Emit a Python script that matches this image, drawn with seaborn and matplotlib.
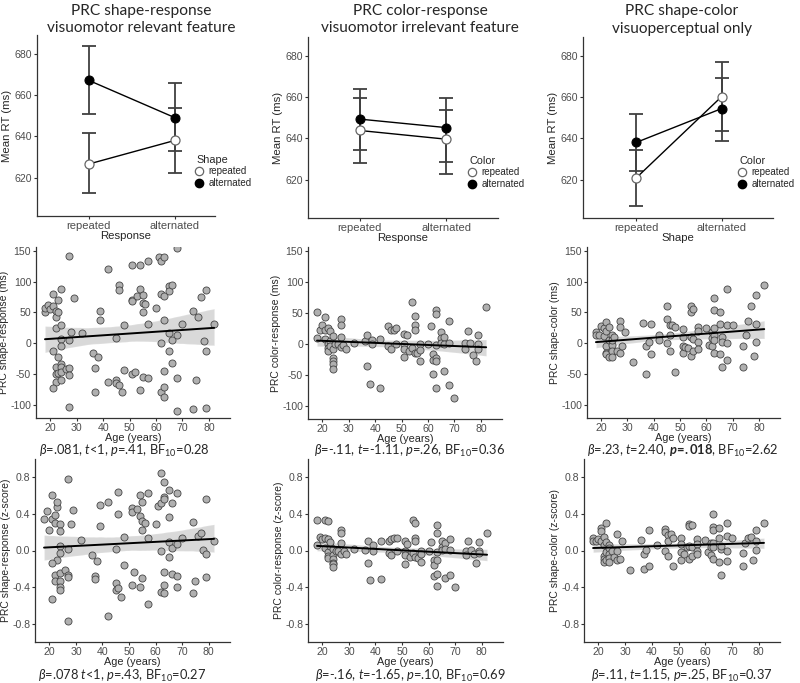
import numpy as np
import pandas as pd
import seaborn as sns
import matplotlib.pyplot as plt
from matplotlib.lines import Line2D

levels = ['repeated', 'alternated']

# top row: mean RT with 95% CI (ms)
# PRC shape-response (x = Response, hue = Shape)
sr_rep_mean = [626.6, 638.0]
sr_rep_lo = [612.5, 622.4]
sr_rep_hi = [641.4, 653.5]
sr_alt_mean = [667.1, 649.1]
sr_alt_lo = [650.9, 632.9]
sr_alt_hi = [683.7, 666.0]
# PRC color-response (x = Response, hue = Color)
cr_rep_mean = [643.8, 639.6]
cr_rep_lo = [628.3, 622.6]
cr_rep_hi = [659.3, 653.7]
cr_alt_mean = [649.3, 645.2]
cr_alt_lo = [634.4, 628.5]
cr_alt_hi = [664.0, 659.4]
# PRC shape-color (x = Shape, hue = Color)
sc_rep_mean = [620.8, 660.2]
sc_rep_lo = [607.4, 643.5]
sc_rep_hi = [634.3, 676.9]
sc_alt_mean = [638.0, 654.4]
sc_alt_lo = [624.2, 638.8]
sc_alt_hi = [652.0, 669.4]

# middle row: PRC in ms by age
sr_ms_age = [18, 18, 19, 20, 21, 21, 22, 22, 22, 23, 23, 24, 24, 24, 24, 21, 23, 22, 22, 22,
             21, 23, 24, 24, 24, 24, 26, 27, 27, 27, 27, 28, 29, 27,
             32, 36, 37, 37, 38, 39, 39, 42, 42, 45, 45, 45, 46, 46, 46, 47, 48, 48, 51, 51,
             51, 51, 52, 53, 54, 54, 54, 55, 55, 55, 55, 56, 57, 57, 57, 60, 61, 62, 62, 62,
             62, 63, 63, 63, 63, 63, 63, 65, 65, 65, 65, 66, 66, 66, 68, 68, 68, 68, 70, 74,
             74, 75, 76, 77, 78, 79, 79, 79, 82]
sr_ms = [50, 57, 62, 55, 60, 80, 52, 43, 25, 70, 50, 88, 30, 7, -5, -12, -22, -38, -50, -62,
         -73, -48, -33, -38, -47, -60, -42, -40, -52, 5, 142, 19, 73, -103,
         16, -16, -40, -79, -22, 52, 38, 120, -62, 8, -60, -65, 94, 87, -68, -79, 29, -44, 127, 70,
         68, -49, -47, 77, 127, 88, -75, 79, 66, 50, -54, 63, 134, 31, -56, 57, 140, 134, 80, 1,
         -79, 140, 77, 37, -45, -70, -87, 93, 84, 16, -13, 94, 5, -32, 154, 14, -56, -109, 32, 53,
         -106, -60, 43, 75, 3, 87, -12, -105, 32]

cr_ms_age = [18, 18, 19, 20, 21, 21, 21, 22, 22, 22, 22, 23, 23, 23, 24, 24, 24, 24, 24, 24,
             25, 26, 27, 27, 27, 27, 28, 29, 32, 36, 37, 37, 38, 39, 39, 42, 42, 45, 45, 46,
             46, 47, 48, 48, 51, 51, 51, 51, 52, 53, 54, 54, 55, 55, 55, 55, 56, 57, 57, 57,
             60, 61, 62, 62, 62, 63, 63, 63, 63, 63, 63, 65, 65, 65, 66, 66, 66, 68, 68, 68,
             70, 74, 74, 75, 76, 77, 78, 79, 79, 79, 82]
cr_ms = [52, 9, 22, 31, 44, 22, 8, 0, -7, -12, 25, 20, 5, -3, 12, -8, -22, -28, -33, -40,
         0, 0, 40, 30, 11, -5, -2, -8, 2, 5, 14, -35, -65, 7, -1, 8, -71, 28, -4, -9,
         22, 22, 26, 0, 16, -1, -8, -21, 15, -12, 68, -6, 45, 30, 22, -15, -14, -1, -10, -27,
         -1, 28, -16, -26, -48, 55, 48, -2, -22, -27, -71, 19, 10, 2, 11, -43, 0, 37, 2, -66,
         -87, 1, -9, 20, 2, -18, -28, 15, 0, -8, 59]

sc_ms_age = [18, 18, 19, 20, 21, 21, 22, 22, 22, 22, 22, 23, 23, 23, 24, 24, 24, 24, 24, 25,
             26, 27, 27, 27, 28, 29, 32, 36, 37, 37, 38, 39, 39, 42, 42, 45, 45, 45, 46, 46,
             46, 47, 48, 48, 51, 51, 51, 51, 52, 53, 54, 54, 54, 54, 55, 55, 55, 57, 57, 57,
             57, 60, 61, 62, 62, 62, 63, 63, 63, 63, 63, 63, 65, 65, 65, 66, 66, 66, 68, 68,
             68, 68, 70, 74, 74, 75, 76, 77, 78, 79, 79, 79, 82]
sc_ms = [18, 14, 13, 28, 25, 12, 35, 20, -5, -15, -18, 27, 5, -22, 14, -3, -12, -22, 5, 10,
         -13, 36, 26, -15, -5, 18, -30, 33, -5, -50, 2, 31, -17, 13, 6, 61, 40, 0, 29, 14,
         -12, 29, 26, -46, 23, 10, -5, -16, -6, -8, 60, 50, 11, -21, 55, 7, -12, 27, 20, 2,
         -9, 24, -3, 18, 9, -5, 73, 54, 25, 13, 6, -15, 51, 31, -17, 11, -38, 2, 88, 29,
         0, -27, 30, -5, -38, 13, 36, 60, -20, 79, 31, 2, 95]

# bottom row: PRC as z-score by age
sr_z_age = [18, 19, 20, 21, 21, 22, 22, 23, 23, 24, 24, 24, 24, 23, 21, 22, 22, 24, 24, 24,
            24, 21, 26, 27, 27, 27, 27, 28, 29, 27, 32, 36, 37, 37, 38, 39, 39, 42, 42, 45,
            45, 45, 46, 46, 46, 47, 48, 48, 51, 51, 51, 52, 53, 54, 54, 54, 55, 55, 55, 55,
            56, 57, 57, 57, 60, 61, 62, 62, 62, 62, 63, 63, 63, 63, 63, 63, 65, 65, 65, 65,
            66, 66, 66, 68, 68, 68, 68, 70, 74, 74, 75, 76, 77, 78, 79, 79, 79, 82]
sr_z = [0.345, 0.43, 0.22, 0.60, 0.34, 0.38, 0.30, 0.47, 0.53, 0.29,
        0.21, 0.05, -0.03, -0.10, -0.13, -0.27, -0.33, -0.24, -0.33, -0.40,
        -0.43, -0.53, -0.21, -0.27, -0.29, 0.02, 0.77, 0.29, 0.44, -0.76,
        0.11, -0.05, -0.28, -0.31, -0.11, 0.49, 0.27, 0.53, -0.71, 0.02,
        -0.35, -0.43, 0.63, 0.39, -0.41, -0.50, 0.15, -0.16, 0.46, 0.42,
        -0.37, -0.23, 0.45, 0.60, 0.37, -0.40, 0.52, 0.32, 0.22, -0.30,
        0.30, 0.62, 0.13, -0.58, 0.29, 0.48, 0.84, 0.51, 0.00, -0.45,
        0.74, 0.58, 0.56, -0.23, -0.37, -0.46, 0.65, 0.36, 0.09, -0.07,
        0.51, 0.03, -0.25, 0.62, 0.07, -0.28, -0.39, 0.13, 0.31, -0.46,
        -0.33, 0.16, 0.19, 0.01, 0.56, -0.04, -0.29, 0.10]

cr_z_age = [18, 18, 19, 20, 21, 21, 22, 22, 21, 22, 22, 22, 23, 23, 24, 24, 24, 24, 24, 24,
            25, 26, 27, 27, 27, 27, 28, 29, 32, 36, 37, 37, 38, 39, 39, 42, 42, 45, 45, 46,
            46, 47, 48, 48, 51, 51, 51, 51, 52, 53, 54, 54, 55, 55, 55, 55, 56, 57, 57, 57,
            60, 61, 62, 62, 62, 63, 63, 63, 63, 63, 63, 65, 65, 65, 66, 66, 66, 68, 68, 68,
            70, 74, 74, 75, 76, 77, 78, 79, 79, 79, 82]
cr_z = [0.33, 0.06, 0.15, 0.12, 0.13, 0.33, 0.32, 0.12, 0.03, -0.02,
        -0.06, -0.08, 0.05, 0.09, 0.02, -0.05, -0.09, -0.13, -0.15, -0.18,
        0.00, -0.01, 0.22, 0.19, 0.08, -0.04, -0.01, -0.04, 0.02, 0.01,
        0.10, -0.14, -0.32, 0.06, 0.00, 0.10, -0.31, 0.10, -0.03, -0.05,
        0.12, 0.13, 0.13, 0.00, 0.10, 0.00, -0.05, -0.15, 0.07, -0.07,
        0.33, -0.03, 0.30, 0.14, 0.10, -0.07, -0.08, 0.00, -0.04, -0.12,
        -0.01, 0.09, -0.10, -0.16, -0.28, 0.28, 0.19, -0.02, -0.10, -0.25,
        -0.38, 0.10, 0.04, 0.01, 0.08, -0.30, 0.02, 0.12, 0.01, -0.27,
        -0.39, 0.00, -0.05, 0.10, 0.01, -0.04, -0.14, 0.09, 0.00, -0.03, 0.19]

sc_z_age = [18, 18, 19, 20, 21, 21, 21, 22, 22, 22, 22, 22, 23, 23, 23, 23, 24, 24, 24, 24,
            24, 25, 26, 27, 27, 27, 28, 29, 32, 36, 37, 37, 38, 39, 39, 42, 45, 45, 45, 46,
            46, 46, 47, 48, 48, 51, 51, 51, 51, 52, 53, 54, 54, 54, 54, 55, 55, 55, 57, 57,
            57, 57, 60, 61, 62, 62, 62, 63, 63, 63, 63, 63, 63, 65, 65, 65, 66, 66, 66, 68,
            68, 68, 68, 70, 74, 74, 75, 76, 77, 78, 79, 79, 79, 82]
sc_z = [0.13, 0.10, 0.10, 0.12, 0.24, 0.21, 0.10, 0.15, 0.06, -0.06,
        -0.09, -0.12, 0.30, 0.09, -0.02, -0.10, 0.06, 0.03, -0.04, -0.08,
        -0.12, 0.00, -0.07, 0.18, -0.01, -0.10, -0.09, 0.10, -0.21, 0.11,
        -0.04, -0.20, 0.01, 0.22, -0.17, 0.06, 0.23, 0.20, 0.00, 0.17,
        0.10, -0.06, 0.18, 0.14, -0.17, 0.14, 0.07, -0.02, -0.10, -0.04,
        0.04, 0.29, 0.26, 0.05, -0.09, 0.28, 0.04, -0.06, 0.12, 0.07,
        0.00, -0.04, 0.11, -0.02, 0.08, 0.04, -0.05, 0.39, 0.25, 0.22,
        0.08, 0.04, -0.09, 0.24, 0.13, -0.12, 0.02, -0.26, 0.05, 0.30,
        0.16, 0.00, -0.11, 0.13, -0.03, -0.17, 0.08, 0.14, 0.15, -0.10,
        0.22, 0.10, 0.01, 0.30]

sns.set_theme(style='ticks')
plt.rcParams['font.family'] = ['Liberation Sans', 'DejaVu Sans']
plt.rcParams['axes.unicode_minus'] = False
plt.rcParams['mathtext.fontset'] = 'custom'
plt.rcParams['mathtext.rm'] = 'Lato'
plt.rcParams['mathtext.it'] = 'Lato:italic'
plt.rcParams['mathtext.bf'] = 'Lato:bold'
plt.rcParams['mathtext.bfit'] = 'Lato:italic:bold'

W, H = 800, 683
fig = plt.figure(figsize=(W / 100, H / 100), dpi=100)


def add_ax(l, r, t, b):
    return fig.add_axes([l / W, 1 - b / H, (r - l) / W, (b - t) / H])


def style_ax(ax, fs):
    sns.despine(ax=ax)
    for s in ['left', 'bottom']:
        ax.spines[s].set_color('#333333')
        ax.spines[s].set_linewidth(0.9)
    ax.tick_params(length=2.5, width=0.8, color='#333333', labelcolor='#4d4d4d',
                   labelsize=fs, pad=1)


# ---- top row: interaction plots ----
top = [
    dict(box=(37, 215, 35, 216), xlim=(-0.6, 1.47), xlab='Response', hue='Shape',
         rep=(sr_rep_mean, sr_rep_lo, sr_rep_hi), alt=(sr_alt_mean, sr_alt_lo, sr_alt_hi),
         title='PRC shape-response', sub='visuomotor relevant feature', cx=141, leg=(196, 155)),
    dict(box=(308, 498, 37, 218), xlim=(-0.6, 1.6), xlab='Response', hue='Color',
         rep=(cr_rep_mean, cr_rep_lo, cr_rep_hi), alt=(cr_alt_mean, cr_alt_lo, cr_alt_hi),
         title='PRC color-response', sub='visuomotor irrelevant feature', cx=420, leg=(469, 156)),
    dict(box=(583, 773, 37, 218), xlim=(-0.62, 1.6), xlab='Shape', hue='Color',
         rep=(sc_rep_mean, sc_rep_lo, sc_rep_hi), alt=(sc_alt_mean, sc_alt_lo, sc_alt_hi),
         title='PRC shape-color', sub='visuoperceptual only', cx=682, leg=(739, 156)),
]

for p in top:
    ax = add_ax(*p['box'])
    df = pd.DataFrame({'x': levels + levels,
                       'hue': ['repeated'] * 2 + ['alternated'] * 2,
                       'rt': list(p['rep'][0]) + list(p['alt'][0])})
    sns.pointplot(data=df, x='x', y='rt', hue='hue', order=levels, hue_order=levels,
                  palette=['#666666', 'black'], markers='o', linestyles='-',
                  markersize=6.5, linewidth=1, errorbar=None, legend=False, ax=ax)
    for line, lvl in zip(ax.lines, levels):
        line.set_color('black')
        line.set_zorder(3)
        if lvl == 'repeated':
            line.set_markerfacecolor('white')
            line.set_markeredgecolor('#666666')
            line.set_markeredgewidth(0.9)
    for m, lo, hi in (p['rep'], p['alt']):
        m, lo, hi = np.array(m), np.array(lo), np.array(hi)
        ax.errorbar(np.arange(len(levels)), m, yerr=[m - lo, hi - m], fmt='none',
                    ecolor='#404040', elinewidth=1.3, capsize=4.7, capthick=1.3, zorder=1.5)
    ax.set_xlim(*p['xlim'])
    ax.set_ylim(601.5, 689)
    ax.set_yticks([620, 640, 660, 680])
    ax.set_xlabel(p['xlab'], fontsize=8.2, labelpad=0)
    ax.set_ylabel('Mean RT (ms)', fontsize=8.2, labelpad=2)
    style_ax(ax, 7.6)
    ax.tick_params(axis='x', labelsize=8)
    handles = [Line2D([], [], marker='o', ls='', ms=6, mfc='white', mec='#666666', mew=0.9),
               Line2D([], [], marker='o', ls='', ms=6, mfc='black', mec='black')]
    lx, ly = p['leg']
    fig.legend(handles, levels, title=p['hue'], loc='upper left',
               bbox_to_anchor=(lx / W, 1 - ly / H), frameon=False, fontsize=7,
               title_fontsize=7.8, handlelength=0.7, handletextpad=0.6, labelspacing=0.15,
               borderpad=0, borderaxespad=0, alignment='left')
    fig.text(p['cx'] / W, 1 - 11 / H, p['title'], ha='center', va='center',
             family='Lato', fontsize=11.2)
    fig.text(p['cx'] / W, 1 - 28.5 / H, p['sub'], ha='center', va='center',
             family='Lato', fontsize=11.1)

# ---- middle and bottom rows: PRC by age ----
scatter = [
    dict(box=(36, 230, 247, 418), x=sr_ms_age, y=sr_ms, ylab='PRC shape-response (ms)',
         note=r'$\beta$=.081, $t$<1, $p$=.41, BF$_{10}$=0.28', cx=124, ny=451),
    dict(box=(308, 502, 247, 419), x=cr_ms_age, y=cr_ms, ylab='PRC color-response (ms)',
         note=r'$\beta$=-.11, $t$=-1.11, $p$=.26, BF$_{10}$=0.36', cx=410, ny=451),
    dict(box=(587, 780, 247, 418), x=sc_ms_age, y=sc_ms, ylab='PRC shape-color (ms)',
         note=r'$\beta$=.23, $t$=2.40, $\mathbfit{p}\!\mathbf{=}\!\mathbf{.018}$, BF$_{10}$=2.62',
         cx=683, ny=451),
    dict(box=(35, 230, 459, 642), x=sr_z_age, y=sr_z, ylab='PRC shape-response (z-score)',
         note=r'$\beta$=.078 $t$<1, $p$=.43, BF$_{10}$=0.27', cx=122, ny=675.5),
    dict(box=(308, 503, 459, 642), x=cr_z_age, y=cr_z, ylab='PRC color-response (z-score)',
         note=r'$\beta$=-.16, $t$=-1.65, $p$=.10, BF$_{10}$=0.69', cx=410, ny=675.5),
    dict(box=(584, 780, 459, 642), x=sc_z_age, y=sc_z, ylab='PRC shape-color (z-score)',
         note=r'$\beta$=.11, $t$=1.15, $p$=.25, BF$_{10}$=0.37', cx=682, ny=675.5),
]

for i, p in enumerate(scatter):
    ax = add_ax(*p['box'])
    sns.regplot(x=p['x'], y=p['y'], ax=ax, color='black', ci=95, seed=1,
                scatter_kws=dict(color='#b0b0b0', edgecolor='#454545', linewidths=0.6,
                                 s=26, alpha=1, zorder=3),
                line_kws=dict(lw=1.4, zorder=4))
    ax.set_xlim(14.6, 88)
    ax.set_xticks([20, 30, 40, 50, 60, 70, 80])
    if i < 3:
        ax.set_ylim(-121, 156)
        ax.set_yticks([-100, -50, 0, 50, 100, 150])
    else:
        ax.set_ylim(-0.99, 0.99)
        ax.set_yticks([-0.8, -0.4, 0.0, 0.4, 0.8])
        ax.set_yticklabels(['-0.8', '-0.4', '0.0', '0.4', '0.8'])
    ax.set_xlabel('Age (years)', fontsize=7.8, labelpad=0)
    ax.set_ylabel(p['ylab'], fontsize=7.5, labelpad=1)
    style_ax(ax, 7.6)
    fig.text(p['cx'] / W, 1 - p['ny'] / H, p['note'], ha='center', va='center',
             family='Lato', fontsize=9.3)

fig.savefig('out.png', dpi=100, facecolor='white')
